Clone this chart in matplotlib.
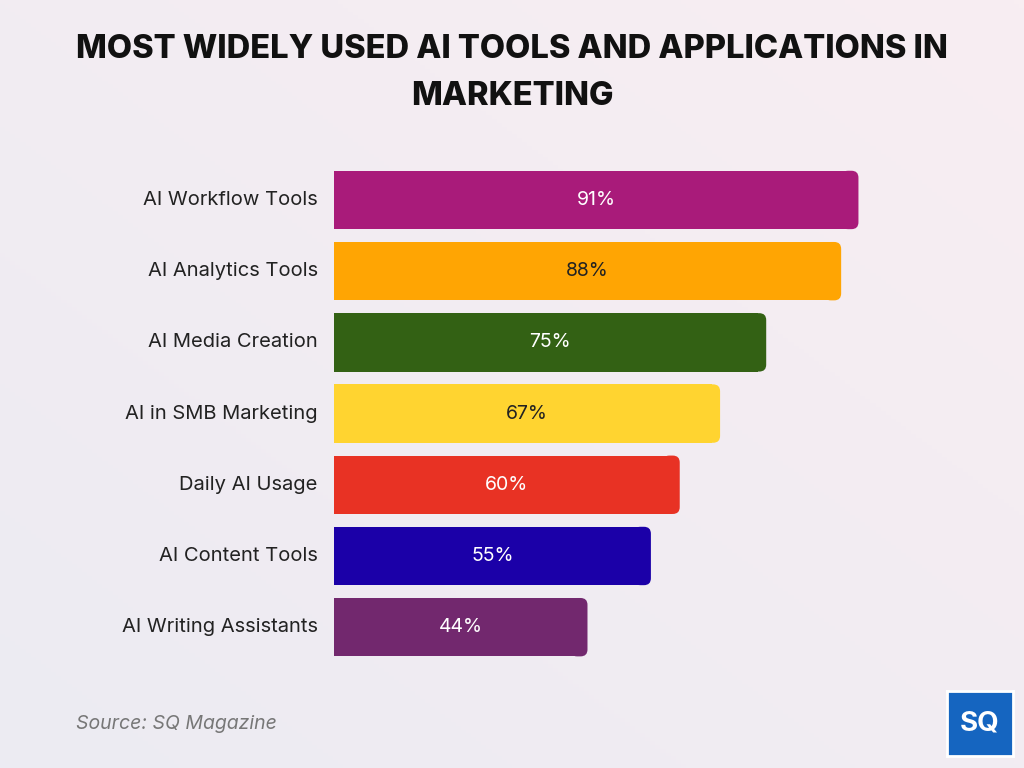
import numpy as np
import matplotlib
matplotlib.use("Agg")
import matplotlib.pyplot as plt
from matplotlib.patches import FancyBboxPatch

categories = ["AI Workflow Tools", "AI Analytics Tools", "AI Media Creation",
              "AI in SMB Marketing", "Daily AI Usage", "AI Content Tools",
              "AI Writing Assistants"]
values = [91, 88, 75, 67, 60, 55, 44]
colors = ["#A91B7A", "#FFA503", "#336114", "#FFD430", "#E83224", "#1B00A8", "#72286E"]
text_colors = ["white", "#222222", "white", "#222222", "white", "white", "white"]

fig = plt.figure(figsize=(10.24, 7.68), dpi=100)

# soft background gradient
bg = fig.add_axes([0, 0, 1, 1], zorder=-1)
gx = np.linspace(0, 1, 200)
gy = np.linspace(0, 1, 200)
X, Y = np.meshgrid(gx, gy)
grad = 0.5 * X + 0.5 * (1 - Y)
cmap = matplotlib.colors.LinearSegmentedColormap.from_list("bg", ["#ECEBF3", "#F8EEF2"])
bg.imshow(grad, cmap=cmap, aspect="auto", extent=[0, 1, 0, 1])
bg.axis("off")

ax = fig.add_axes([0.326, 0.137, 0.563, 0.649])
ax.set_xlim(0, 100)
ax.set_ylim(-0.5, 6.5)
ax.invert_yaxis()
ax.axis("off")

# x unit ~5.76 px, y unit ~71 px
asp = 5.76 / 71.0
h = 0.82
for i, (v, c) in enumerate(zip(values, colors)):
    ax.barh(i, v - 1.4, height=h, color=c, lw=0)
    ax.add_patch(FancyBboxPatch((v - 3, i - h / 2), 3, h,
                                boxstyle="round,pad=0,rounding_size=1.2",
                                mutation_aspect=asp, fc=c, ec="none"))
    ax.text(v / 2, i, f"{v}%", ha="center", va="center", fontsize=14,
            color=text_colors[i], family="Inter")
    ax.text(-2.8, i, categories[i], ha="right", va="center", fontsize=14.5,
            color="#222222", family="Inter")

fig.text(0.5, 0.935, "MOST WIDELY USED AI TOOLS AND APPLICATIONS IN", ha="center",
         va="center", fontsize=23.5, fontweight="heavy", family="Inter", color="#111111")
fig.text(0.5, 0.874, "MARKETING", ha="center", va="center", fontsize=23.5,
         fontweight="heavy", family="Inter", color="#111111")

fig.text(0.074, 0.057, "Source: SQ Magazine", ha="left", va="center", fontsize=14,
         style="italic", color="#777777", family="Inter")

# logo
lg = fig.add_axes([0.925, 0.015, 0.064, 0.085])
lg.set_facecolor("#1565C0")
lg.set_xticks([]); lg.set_yticks([])
for s in lg.spines.values():
    s.set_color("white"); s.set_linewidth(2)
lg.text(0.5, 0.5, "SQ", ha="center", va="center", fontsize=20, fontweight="bold",
        color="white", family="Inter", transform=lg.transAxes)

fig.savefig("out.png", dpi=100)
